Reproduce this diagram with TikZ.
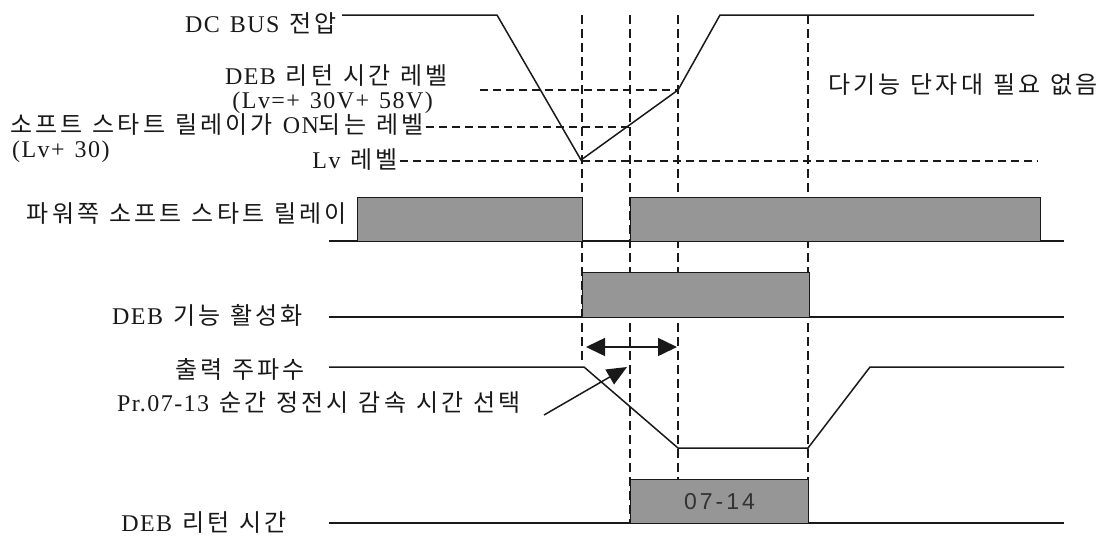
\documentclass[tikz,border=0pt]{standalone}
\usepackage{fontspec}
\setmainfont[LetterSpace=6]{Liberation Serif}
\newfontfamily\kr[LetterSpace=13]{Noto Sans CJK KR}
\newfontfamily\boxfont{Liberation Sans}
\usetikzlibrary{arrows.meta}
\definecolor{barfill}{RGB}{150,150,150}
\definecolor{ink}{RGB}{25,25,25}
\definecolor{boxtext}{RGB}{50,50,50}
\newcommand\K[1]{{\kr #1}}
\begin{document}
\begin{tikzpicture}[x=1pt,y=-1pt,
  lbl/.style={font={\fontsize{24}{27}\selectfont\spaceskip=10pt\relax}, text=ink, inner sep=0pt},
  sig/.style={draw=ink, line width=1.5pt, line join=miter},
  lvl/.style={draw=ink, line width=1.6pt, dash pattern=on 8pt off 5pt},
  vthick/.style={draw=ink, line width=2.7pt, dash pattern=on 9pt off 5pt},
  vthin/.style={draw=ink, line width=1.7pt, dash pattern=on 9pt off 5pt},
  bar/.style={fill=barfill, draw=ink, line width=0.9pt},
  bigtip/.style={line width=1.5pt, draw=ink},
]
\useasboundingbox (0,0) rectangle (1115,536);

% labels
\node[lbl, anchor=base east] (l1) at (337,32) {DC BUS \K{전압}};
\node[lbl, anchor=base east] (l2) at (448,84) {DEB \K{리턴 시간 레벨}};
\node[lbl, anchor=base east] (l3) at (433,108) {(Lv=+ 30V+ 58V)};
\node[lbl, anchor=base west] (l4) at (10,133) {\K{소프트 스타트 릴레이가} ON\K{되는 레벨}};
\node[lbl, anchor=base west] (l5) at (12,157) {(Lv+ 30)};
\node[lbl, anchor=base east] (l6) at (398,168) {Lv \K{레벨}};
\node[lbl, anchor=base east] (l7) at (347,222) {\K{파워쪽 소프트 스타트 릴레이}};
\node[lbl, anchor=base east] (l8) at (303,324) {DEB \K{기능 활성화}};
\node[lbl, anchor=base east] (l9) at (305,378) {\K{출력 주파수}};
\node[lbl, anchor=base east] (l10) at (521,411) {Pr.07-13 \K{순간 정전시 감속 시간 선택}};
\node[lbl, anchor=base east] (l11) at (287,531) {DEB \K{리턴 시간}};
\node[lbl, anchor=base west] (l12) at (828,93) {\K{다기능 단자대 필요 없음}};

% level lines (dashed)
\coordinate (y127) at (0,127);
\draw[lvl] (480,90) -- (678,90);
\draw[lvl] ([xshift=2pt]l4.east |- y127) -- (630,127);
\draw[lvl] (400,161) -- (1038,161);

% vertical dashed time markers
\draw[vthick] (582,15) -- (582,363);
\draw[vthin] (630,15) -- (630,523);
\draw[vthin] (678,15) -- (678,479);
\draw[vthick] (808,15) -- (808,523);

% DC bus voltage
\draw[sig] (342,15) -- (497,15) -- (581,160) -- (678,90) -- (720,15) -- (1034,15);

% power side soft start relay
\draw[sig] (329,241) -- (1064,241);
\draw[bar] (357,197) rectangle (582,241);
\draw[bar] (630,197) rectangle (1040,241);

% DEB function active
\draw[sig] (329,317) -- (1064,317);
\draw[bar] (582,272) rectangle (809,317);

% output frequency
\draw[sig] (329,367) -- (584,367) -- (678,448) -- (808,448) -- (870,367) -- (1064,367);

% DEB return time
\draw[sig] (329,523) -- (1064,523);
\node[bar, anchor=north west, minimum width=178pt, minimum height=44pt, inner sep=0pt,
      font={\boxfont\fontsize{23}{26}\selectfont}, text=boxtext] (ret) at (630,479)
      {0\kern3pt 7\kern3pt -\kern3pt 1\kern3pt 4};

% arrows
\coordinate (dl) at (586,347);
\coordinate (dr) at (677,347);
\draw[bigtip, {Triangle[length=19pt,width=18pt]}-{Triangle[length=19pt,width=18pt]}] (dl) -- (dr);
\coordinate (pa) at (544,415);
\coordinate (pb) at (627,367);
\draw[bigtip, -{Triangle[length=20pt,width=17pt]}] (pa) -- (pb);
\end{tikzpicture}
\end{document}
